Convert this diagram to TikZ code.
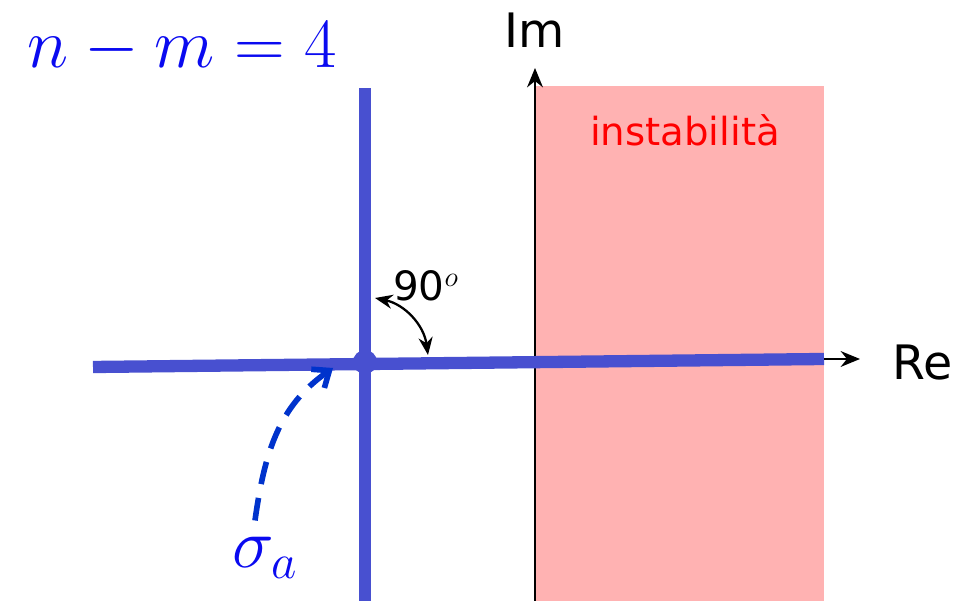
\RequirePackage{fix-cm}
\documentclass[tikz,border=0pt]{standalone}
\usepackage{fontspec}
\setsansfont{DejaVu Sans}
\usetikzlibrary{arrows.meta,positioning}
\definecolor{locusblue}{RGB}{72,80,208}
\definecolor{dashblue}{RGB}{0,51,204}
\definecolor{textblue}{RGB}{10,10,240}
\definecolor{unstablepink}{RGB}{255,178,178}

\begin{document}
\begin{tikzpicture}[
    locus/.style={draw=locusblue,line width=7pt},
    axis line/.style={draw=black,line width=1.3pt,-{Stealth[length=11pt,width=9pt]}},
    axis label/.style={font=\sffamily\fontsize{27}{30}\selectfont},
    angle arrow/.style={draw=black,line width=1.3pt,
        {Stealth[length=10pt,width=8pt]}-{Stealth[length=10pt,width=8pt]}},
    shift arrow/.style={draw=dashblue,line width=3.2pt,dash pattern=on 13pt off 8pt,
        -{Straight Barb[length=8pt,width=13pt]}},
    big math/.style={text=textblue,font=\fontsize{40}{44}\selectfont,inner sep=1pt}
]
    \useasboundingbox (0,0) rectangle (19.58,12.02);
    \fill[unstablepink] (10.7,0) rectangle (16.48,10.3);
    \node[text=red,font=\sffamily\fontsize{22}{26}\selectfont] (unstable) at (13.7,9.42) {instabilità};

    % imaginary axis
    \coordinate (im-start) at (10.7,0);
    \coordinate (im-end) at (10.7,10.66);
    \draw[axis line] (im-start) -- (im-end);
    \node[axis label] (im-label) at (10.7,11.42) {Im};

    % root locus branches
    \coordinate (left-end) at (1.86,4.68);
    \coordinate (right-end) at (16.48,4.84);
    \coordinate (top-end) at (7.3,10.26);
    \coordinate (bottom-end) at (7.3,0);
    \draw[locus] (left-end) -- (right-end);
    \draw[locus,line width=6.5pt] (bottom-end) -- (top-end);
    \fill[locusblue] (7.3,4.78) circle (0.24);
    \node[inner sep=0pt] (centroid) at (7.3,4.78) {};

    % real axis
    \coordinate (re-end) at (17.2,4.84);
    \draw[axis line] (right-end) -- (re-end);
    \node[axis label] (re-label) at (18.45,4.76) {Re};

    % right angle
    \coordinate (angle-a) at (7.5,6.06);
    \coordinate (angle-b) at (8.56,4.92);
    \draw[angle arrow] (angle-a) to[bend left=35] (angle-b);
    \node[font=\sffamily\fontsize{23}{26}\selectfont] (angle-label) at (8.52,6.3) {90$^{o}$};

    % asymptote centre
    \node[big math] (n-m) at (3.64,11.06) {$n-m=4$};
    \node[big math] (sigma) at (5.3,0.86) {$\sigma_a$};
    \coordinate (sigma-tip) at (6.66,4.66);
    \draw[shift arrow] (sigma.north) ++(-0.2,0.3) to[out=82,in=215] (sigma-tip);

\end{tikzpicture}
\end{document}
